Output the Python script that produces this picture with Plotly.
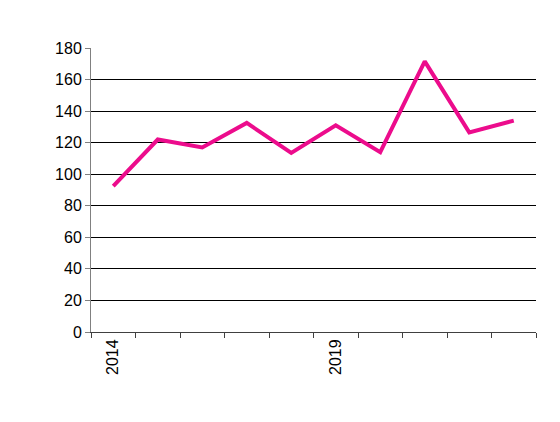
import plotly.graph_objects as go

years = ["2014", "2015", "2016", "2017", "2018", "2019", "2020", "2021", "2022", "2023"]
values = [92.5, 122, 117, 132.5, 113.5, 131, 114, 171.5, 126.5, 134]
tick_labels = ["2014", "", "", "", "", "2019", "", "", "", ""]

fig = go.Figure()

fig.add_trace(
    go.Scatter(
        x=years,
        y=values,
        mode="lines",
        line=dict(color="#EC0C8C", width=4),
        showlegend=False,
    )
)

# page has an 8px body offset, margins compensate for it
fig.update_layout(
    width=560,
    height=422,
    margin=dict(l=83, r=32, t=40, b=98),
    paper_bgcolor="white",
    plot_bgcolor="white",
    font=dict(family="Liberation Sans, Arial", size=16, color="black"),
)

fig.update_xaxes(
    type="category",
    range=[-0.5, len(years) - 0.5],
    tickmode="array",
    tickvals=years,
    ticktext=tick_labels,
    tickangle=-90,
    tickson="boundaries",
    ticks="outside",
    ticklen=5,
    tickcolor="#404040",
    showline=True,
    linecolor="#404040",
    linewidth=1,
    showgrid=False,
    zeroline=False,
)

fig.update_yaxes(
    range=[0, 180],
    tickvals=list(range(0, 181, 20)),
    ticks="outside",
    ticklen=5,
    tickcolor="#808080",
    showline=True,
    linecolor="#808080",
    linewidth=1,
    showgrid=True,
    gridcolor="black",
    gridwidth=1,
    zeroline=False,
)

fig.write_html("out.html")
